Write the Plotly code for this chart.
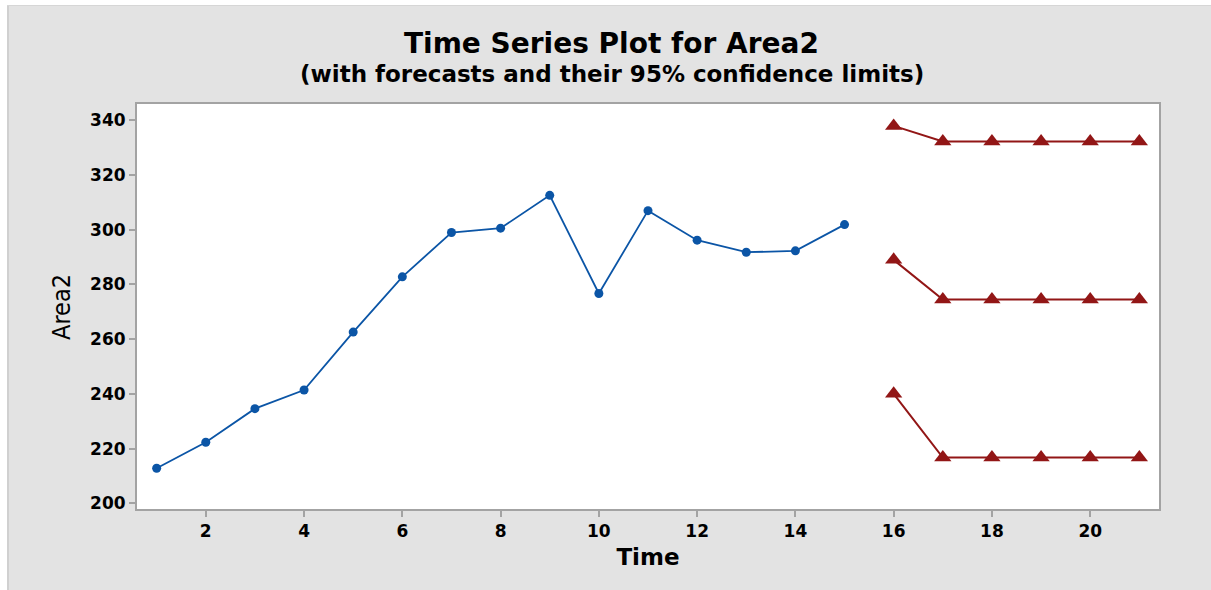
import plotly.graph_objects as go

# ---- data ----
time_obs = list(range(1, 16))
area2 = [212.8, 222.3, 234.6, 241.4, 262.6, 282.8, 299.0, 300.6, 312.6,
         276.7, 307.0, 296.2, 291.8, 292.3, 301.9]
time_fc = list(range(16, 22))
forecast = [289.0, 274.5, 274.5, 274.5, 274.5, 274.5]
lower95 = [240.0, 216.7, 216.7, 216.7, 216.7, 216.7]
upper95 = [338.0, 332.3, 332.3, 332.3, 332.3, 332.3]

x_ticks = [2, 4, 6, 8, 10, 12, 14, 16, 18, 20]
y_ticks = [200, 220, 240, 260, 280, 300, 320, 340]

W, H = 1211, 590
L, R, T, B = 137, 52, 104, 81
PW, PH = W - L - R, H - T - B

BLUE = "#0B55A6"
RED = "#921616"
GRAY_BG = "#E3E3E3"
AXIS = "#A3A3A3"
FONT = "DejaVu Sans"
NARROW = "Liberation Sans Narrow, DejaVu Sans Condensed, Roboto Condensed, Roboto, sans-serif"

fig = go.Figure()
fig.add_trace(go.Scatter(
    x=time_obs, y=area2, mode="lines+markers",
    line=dict(color=BLUE, width=1.8),
    marker=dict(symbol="circle", size=9, color=BLUE),
    showlegend=False))
for series in (upper95, forecast, lower95):
    fig.add_trace(go.Scatter(
        x=time_fc, y=series, mode="lines+markers",
        line=dict(color=RED, width=2),
        marker=dict(symbol="triangle-up", size=15, color=RED,
                    line=dict(color=RED, width=0)),
        showlegend=False))

def px_x(px):
    return (px - L) / PW

def px_y(py):
    return (H - B - py) / PH

shapes = [
    dict(type="rect", xref="paper", yref="paper",
         x0=px_x(0), x1=px_x(W), y0=px_y(0), y1=px_y(5),
         fillcolor="white", line=dict(width=0), layer="above"),
    dict(type="rect", xref="paper", yref="paper",
         x0=px_x(0), x1=px_x(7), y0=px_y(H), y1=px_y(0),
         fillcolor="white", line=dict(width=0), layer="above"),
    dict(type="rect", xref="paper", yref="paper",
         x0=px_x(7), x1=px_x(9), y0=px_y(H), y1=px_y(5),
         fillcolor="#D0D0D0", line=dict(width=0), layer="above"),
    dict(type="rect", xref="paper", yref="paper",
         x0=px_x(7), x1=px_x(W), y0=px_y(6), y1=px_y(5),
         fillcolor="#D6D6D6", line=dict(width=0), layer="above"),
]

annotations = [
    dict(text="Time Series Plot for Area2", xref="paper", yref="paper",
         x=px_x(611), y=px_y(43), xanchor="center", yanchor="middle",
         showarrow=False,
         font=dict(family=FONT, size=28, color="black", weight="bold")),
    dict(text="(with forecasts and their 95% confidence limits)",
         xref="paper", yref="paper",
         x=px_x(612), y=px_y(74), xanchor="center", yanchor="middle",
         showarrow=False,
         font=dict(family=FONT, size=23, color="black", weight="bold")),
    dict(text="Area2", xref="paper", yref="paper",
         x=px_x(61), y=px_y(307), xanchor="center", yanchor="middle",
         textangle=-90, showarrow=False,
         font=dict(family=NARROW, size=25, color="black")),
]

fig.update_layout(
    width=W, height=H,
    margin=dict(l=L, r=R, t=T, b=B, pad=0),
    paper_bgcolor=GRAY_BG, plot_bgcolor="white",
    shapes=shapes, annotations=annotations,
    xaxis=dict(
        range=[0.6, 21.4], tickvals=x_ticks, ticktext=[str(v) for v in x_ticks],
        showgrid=False, zeroline=False,
        showline=True, mirror=True, linecolor=AXIS, linewidth=2,
        ticks="outside", ticklen=6, tickwidth=1.5, tickcolor=AXIS,
        tickfont=dict(family=FONT, size=17, color="black", weight="bold"),
        title=dict(text="Time", standoff=8,
                   font=dict(family=FONT, size=23, color="black", weight="bold")),
    ),
    yaxis=dict(
        range=[197.9, 346.0], tickvals=y_ticks, ticktext=[str(v) for v in y_ticks],
        showgrid=False, zeroline=False,
        showline=True, mirror=True, linecolor=AXIS, linewidth=2,
        ticks="outside", ticklen=6, tickwidth=1.5, tickcolor=AXIS,
        tickfont=dict(family=FONT, size=17, color="black", weight="bold"),
    ),
)

fig.write_html("out.html")
